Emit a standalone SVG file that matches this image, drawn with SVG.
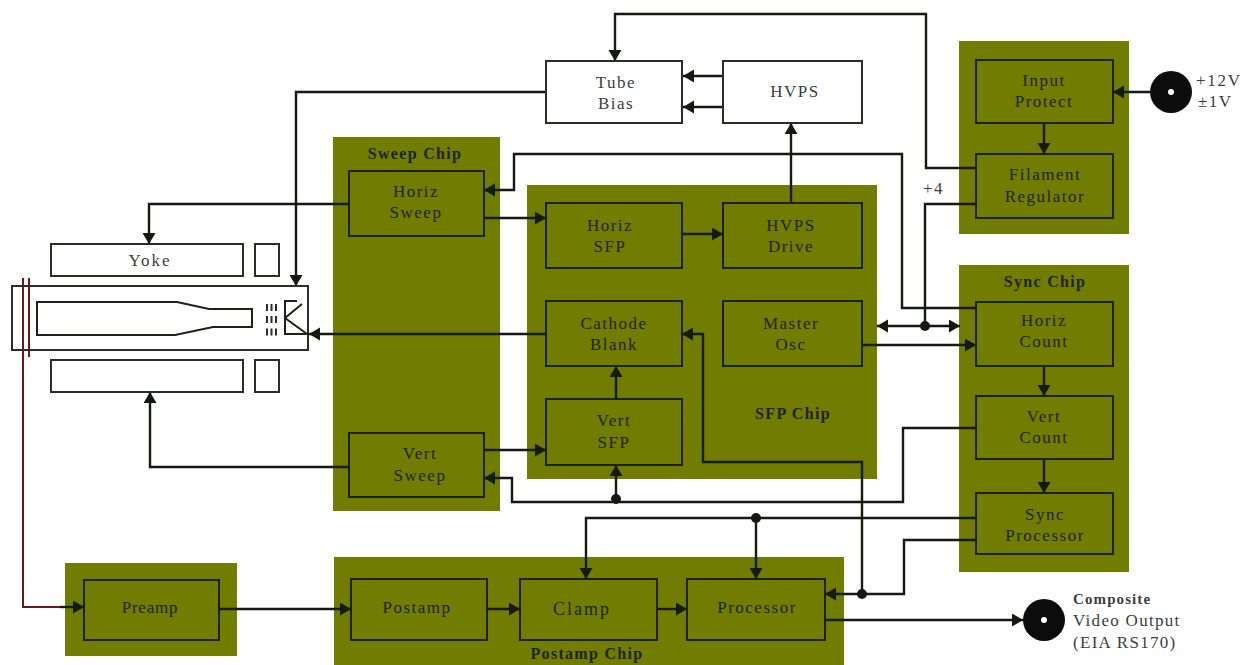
<svg xmlns="http://www.w3.org/2000/svg" width="1257" height="665" viewBox="0 0 1257 665">
<style>
.panel{fill:#717d00}
.box{fill:none;stroke:#1c2208;stroke-width:2}
.wbox{fill:#fff;stroke:#2a2e28;stroke-width:2}
.c{fill:none;stroke:#141a10;stroke-width:2.4}
.t{font-family:"Liberation Serif",serif;font-size:17px;fill:#1c2410;text-anchor:middle;letter-spacing:1.5px}
.b{font-weight:bold;font-size:16px;letter-spacing:1.3px}
.w{fill:#3a403a}
.s{text-anchor:start}
.dot{fill:#141a10}
.red{fill:none;stroke:#6a181c;stroke-width:2}
</style>
<defs>
<marker id="a" markerUnits="userSpaceOnUse" markerWidth="13" markerHeight="14" refX="11" refY="6.5" orient="auto-start-reverse"><path d="M0,0L11,6.5L0,13Z" fill="#141a10"/></marker>
</defs>
<rect width="1257" height="665" fill="#fff"/>
<g id="panels">
<rect class="panel" x="959" y="41" width="170" height="193"/>
<rect class="panel" x="959" y="265" width="170" height="307"/>
<rect class="panel" x="527" y="185" width="350" height="294"/>
<rect class="panel" x="333" y="137" width="167" height="374"/>
<rect class="panel" x="65" y="563" width="172" height="93"/>
<rect class="panel" x="334" y="557" width="510" height="108"/>
</g>
<g id="panel-labels">
<text class="t b" x="415" y="159">Sweep Chip</text>
<text class="t b" x="793" y="419">SFP Chip</text>
<text class="t b" x="1045" y="287">Sync Chip</text>
<text class="t b" x="587" y="659">Postamp Chip</text>
</g>
<g id="connectors">
<path class="c" marker-end="url(#a)" d="M976,168H926V14H615V61"/>
<path class="c" marker-end="url(#a)" d="M723,76H683"/>
<path class="c" marker-end="url(#a)" d="M723,107H683"/>
<path class="c" marker-end="url(#a)" d="M791,203V123"/>
<path class="c" marker-end="url(#a)" d="M546,92H296V286"/>
<path class="c" marker-end="url(#a)" d="M1150,92H1113"/>
<path class="c" marker-end="url(#a)" d="M1044,123V154"/>
<path class="c" d="M976,204H925V326"/>
<path class="c" marker-end="url(#a)" d="M976,308H902V154H514V190H484"/>
<path class="c" marker-end="url(#a)" d="M349,204H149V244"/>
<path class="c" marker-end="url(#a)" d="M484,218H546"/>
<path class="c" marker-end="url(#a)" d="M682,234H723"/>
<path class="c" marker-end="url(#a)" d="M546,334H309"/>
<path class="c" marker-end="url(#a)" marker-start="url(#a)" d="M877,326H960"/>
<path class="c" marker-end="url(#a)" d="M862,345H976"/>
<path class="c" marker-end="url(#a)" d="M1044,366V396"/>
<path class="c" marker-end="url(#a)" d="M1044,459V493"/>
<path class="c" marker-end="url(#a)" d="M616,399V366"/>
<path class="c" marker-end="url(#a)" d="M484,450H546"/>
<path class="c" marker-end="url(#a)" d="M349,467H150V392"/>
<path class="c" marker-end="url(#a)" d="M976,428H903V502H512V478H484"/>
<path class="c" marker-end="url(#a)" d="M616,502V465"/>
<path class="c" marker-end="url(#a)" d="M976,518H586V579"/>
<path class="c" marker-end="url(#a)" d="M756,518V579"/>
<path class="c" marker-end="url(#a)" d="M976,540H904V594H825"/>
<path class="c" marker-end="url(#a)" d="M862,594V462H703V334H682"/>
<path class="c" marker-end="url(#a)" d="M825,620H1023"/>
<path class="c" marker-end="url(#a)" d="M219,609H351"/>
<path class="c" marker-end="url(#a)" d="M487,609H520"/>
<path class="c" marker-end="url(#a)" d="M657,609H687"/>
<path class="red" d="M23,278V607H60"/>
<path class="red" d="M29,278V357"/>
<path class="c" marker-end="url(#a)" d="M60,607H84"/>
<circle class="dot" cx="925" cy="326" r="5"/>
<circle class="dot" cx="616" cy="499" r="5"/>
<circle class="dot" cx="756" cy="518" r="5"/>
<circle class="dot" cx="862" cy="594" r="5"/>
</g>
<g id="crt">
<rect class="wbox" x="51" y="244" width="192" height="32"/>
<text class="t w" x="150" y="266" style="letter-spacing:2px">Yoke</text>
<rect class="wbox" x="255" y="244" width="24" height="32"/>
<rect class="wbox" x="51" y="360" width="192" height="32"/>
<rect class="wbox" x="255" y="360" width="24" height="32"/>
<rect fill="none" stroke="#2a2e28" stroke-width="2" x="12" y="286" width="296" height="64"/>
<path fill="none" stroke="#1c2218" stroke-width="2" d="M37,302H177L209,309H252V327H213L175,335H37Z"/>
<path fill="none" stroke="#2a2e28" stroke-width="7" stroke-dasharray="2 2.5" d="M266,307.500H278M266,319.500H278M266,332H278"/>
<path fill="none" stroke="#1c2218" stroke-width="2" d="M297,301H285V334H307L285,318L302,304"/>
</g>
<g id="tube-bias"><rect class="wbox" x="546" y="61" width="136" height="62"/><text class="t w" x="616" y="88">Tube</text><text class="t w" x="616" y="109">Bias</text></g>
<g id="hvps"><rect class="wbox" x="723" y="61" width="139" height="62"/><text class="t w" x="795" y="97">HVPS</text></g>
<g id="input-protect"><rect class="box" x="976" y="60" width="137" height="63"/><text class="t" x="1044" y="86">Input</text><text class="t" x="1044" y="107">Protect</text></g>
<g id="filament-regulator"><rect class="box" x="976" y="154" width="137" height="64"/><text class="t" x="1045" y="180">Filament</text><text class="t" x="1045" y="202">Regulator</text></g>
<g id="horiz-count"><rect class="box" x="976" y="302" width="137" height="64"/><text class="t" x="1044" y="326">Horiz</text><text class="t" x="1044" y="347">Count</text></g>
<g id="vert-count"><rect class="box" x="976" y="396" width="137" height="63"/><text class="t" x="1044" y="422">Vert</text><text class="t" x="1044" y="443">Count</text></g>
<g id="sync-processor"><rect class="box" x="976" y="493" width="137" height="61"/><text class="t" x="1045" y="520">Sync</text><text class="t" x="1045" y="541">Processor</text></g>
<g id="horiz-sweep"><rect class="box" x="349" y="171" width="135" height="65"/><text class="t" x="416" y="197">Horiz</text><text class="t" x="416" y="218">Sweep</text></g>
<g id="vert-sweep"><rect class="box" x="349" y="433" width="135" height="64"/><text class="t" x="420" y="459">Vert</text><text class="t" x="420" y="481">Sweep</text></g>
<g id="horiz-sfp"><rect class="box" x="546" y="203" width="136" height="65"/><text class="t" x="610" y="231">Horiz</text><text class="t" x="610" y="252">SFP</text></g>
<g id="hvps-drive"><rect class="box" x="723" y="203" width="139" height="65"/><text class="t" x="791" y="231">HVPS</text><text class="t" x="791" y="252">Drive</text></g>
<g id="cathode-blank"><rect class="box" x="546" y="301" width="136" height="65"/><text class="t" x="614" y="329">Cathode</text><text class="t" x="614" y="350">Blank</text></g>
<g id="master-osc"><rect class="box" x="723" y="301" width="139" height="65"/><text class="t" x="791" y="329">Master</text><text class="t" x="791" y="350">Osc</text></g>
<g id="vert-sfp"><rect class="box" x="546" y="399" width="136" height="66"/><text class="t" x="614" y="426">Vert</text><text class="t" x="614" y="448">SFP</text></g>
<g id="preamp"><rect class="box" x="84" y="580" width="135" height="60"/><text class="t" x="150" y="613" style="letter-spacing:.8px">Preamp</text></g>
<g id="postamp"><rect class="box" x="351" y="579" width="136" height="61"/><text class="t" x="417" y="613">Postamp</text></g>
<g id="clamp"><rect class="box" x="520" y="579" width="137" height="61"/><text class="t" x="582" y="615" style="font-size:18px;letter-spacing:2px">Clamp</text></g>
<g id="processor"><rect class="box" x="687" y="579" width="138" height="61"/><text class="t" x="757" y="613">Processor</text></g>
<g id="power-jack"><circle cx="1171" cy="92" r="21" fill="#0c0c0c"/><circle cx="1171" cy="92" r="3" fill="#fff"/>
<text class="t w s" x="1196" y="86" style="letter-spacing:1.7px">+12V</text><text class="t w s" x="1198" y="107">±1V</text></g>
<g id="video-jack"><circle cx="1044" cy="620" r="21" fill="#0c0c0c"/><circle cx="1044" cy="620" r="3" fill="#fff"/>
<text class="t w s" x="1073" y="604" style="font-weight:bold;font-size:15px;letter-spacing:1.1px">Composite</text><text class="t w s" x="1073" y="626" style="letter-spacing:1.3px">Video Output</text><text class="t w s" x="1073" y="648" style="letter-spacing:1.3px">(EIA RS170)</text></g>
<text class="t w s" x="923" y="194">+4</text>
</svg>
